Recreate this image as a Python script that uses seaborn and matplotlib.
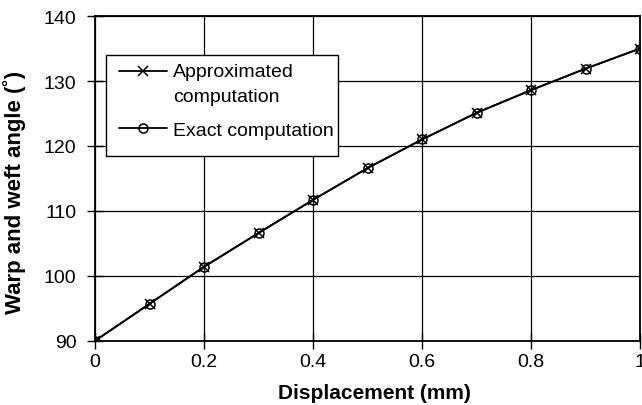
import matplotlib
matplotlib.use("Agg")
import matplotlib.pyplot as plt
from matplotlib.legend_handler import HandlerLine2D
from matplotlib.patches import Rectangle
import seaborn as sns
import pandas as pd

displacement = [0.0, 0.1, 0.2, 0.3, 0.4, 0.5, 0.6, 0.7, 0.8, 0.9, 1.0]
approx_angle = [90.0, 95.7, 101.4, 106.6, 111.7, 116.6, 121.0, 125.1, 128.6, 131.9, 135.0]
exact_angle = [90.0, 95.7, 101.4, 106.6, 111.7, 116.6, 121.0, 125.1, 128.6, 131.9, 135.0]
series_names = ["Approximated\ncomputation", "Exact computation"]
x_ticks = [0, 0.2, 0.4, 0.6, 0.8, 1]
x_tick_labels = ["0", "0.2", "0.4", "0.6", "0.8", "1"]
y_ticks = [90, 100, 110, 120, 130, 140]

df_a = pd.DataFrame({"x": displacement, "y": approx_angle})
df_e = pd.DataFrame({"x": displacement, "y": exact_angle})

sns.set_theme(style="white")
plt.rcParams["font.family"] = ["Liberation Sans", "DejaVu Sans"]
plt.rcParams["text.color"] = "black"
plt.rcParams["axes.labelcolor"] = "black"

fig = plt.figure(figsize=(6.42, 4.06), dpi=100)
ax = fig.add_axes([0.148, 0.158, 0.849, 0.8])

sns.lineplot(data=df_a, x="x", y="y", color="black", marker="x",
             linewidth=1.3, markersize=6.5, markeredgecolor="black",
             markeredgewidth=1.1, label=series_names[0], ax=ax)
sns.lineplot(data=df_e, x="x", y="y", color="black", marker="o",
             linewidth=1.3, markersize=6.5, markerfacecolor="none",
             markeredgecolor="black", markeredgewidth=1.1,
             label=series_names[1], ax=ax)

ax.set_xlim(0, 1)
ax.set_ylim(90, 140)
ax.set_xticks(x_ticks)
ax.set_xticklabels(x_tick_labels)
ax.set_yticks(y_ticks)
ax.grid(True, color="black", linewidth=0.9)
for sp in ax.spines.values():
    sp.set_color("black")
    sp.set_linewidth(1.3)
ax.tick_params(axis="both", labelsize=14, colors="black", length=11, width=1.0,
               direction="inout", bottom=True, left=True)
ax.tick_params(axis="y", pad=8)
ax.tick_params(axis="x", pad=3)
ax.set_xlabel("Displacement (mm)", fontsize=15, fontweight="bold")
ax.set_ylabel("Warp and weft angle (˚)", fontsize=16, fontweight="bold")
ax.xaxis.set_label_coords(0.512, -0.129)
ax.yaxis.set_label_coords(-0.126, 0.46)


class ShiftedHandler(HandlerLine2D):
    def __init__(self, shift, **kw):
        super().__init__(**kw)
        self.shift = shift

    def create_artists(self, legend, orig_handle, xdescent, ydescent, width,
                       height, fontsize, trans):
        return super().create_artists(legend, orig_handle, xdescent,
                                      ydescent - self.shift, width, height,
                                      fontsize, trans)


# legend frame box
ax.add_patch(Rectangle((0.0202, 0.569), 0.4257, 0.311, transform=ax.transAxes,
                       facecolor="white", edgecolor="black", linewidth=1.0,
                       zorder=4))

handles, labels = ax.get_legend_handles_labels()
leg = ax.legend(handles, labels, loc="upper left", bbox_to_anchor=(0.0225, 0.89),
                frameon=False, handlelength=2.47,
                handletextpad=0.33, borderpad=0.6, labelspacing=0.85,
                borderaxespad=0,
                handler_map={handles[0]: ShiftedHandler(18)},
                prop={"size": 14})
leg.set_zorder(5)
for t in leg.get_texts():
    t.set_color("black")
    t.set_linespacing(1.55)

fig.savefig("out.png", dpi=100)
